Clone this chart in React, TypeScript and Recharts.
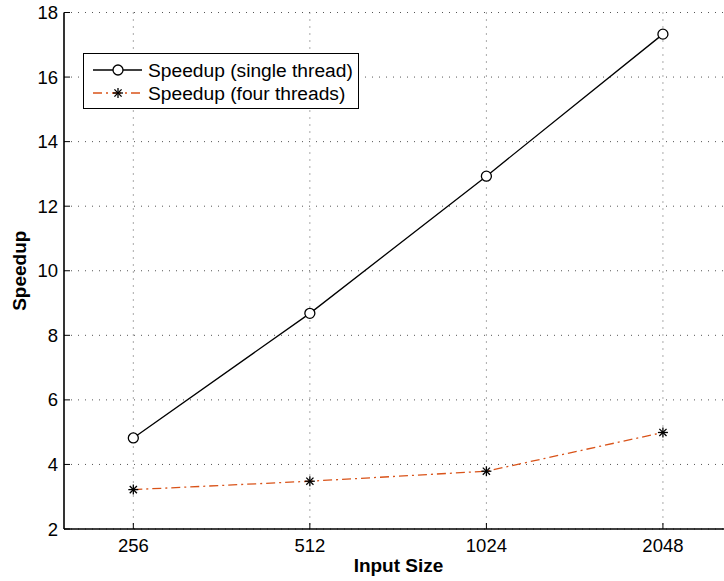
import { LineChart, Line, XAxis, YAxis, CartesianGrid, Legend } from "recharts";

const inputSizes = [256, 512, 1024, 2048];
const singleThread = [4.82, 8.68, 12.93, 17.33];
const fourThreads = [3.22, 3.48, 3.79, 4.99];
const yTicks = [2, 4, 6, 8, 10, 12, 14, 16, 18];
const seriesNames = ["Speedup (single thread)", "Speedup (four threads)"];

const ORANGE = "#D95319";
const FONT = '"Liberation Sans", Arial, Helvetica, sans-serif';
// right end of the axis is cut off by the picture edge
const X_DOMAIN = [195, 2603];

const data = inputSizes.map((n, i) => ({
  n,
  single: singleThread[i],
  four: fourThreads[i],
}));

function Asterisk(props: any) {
  const { cx, cy } = props;
  if (cx == null || cy == null) return null;
  const r = 5;
  const d = r * 0.72;
  return (
    <g stroke="#000" strokeWidth={1.3}>
      <line x1={cx - r} y1={cy} x2={cx + r} y2={cy} />
      <line x1={cx} y1={cy - r} x2={cx} y2={cy + r} />
      <line x1={cx - d} y1={cy - d} x2={cx + d} y2={cy + d} />
      <line x1={cx - d} y1={cy + d} x2={cx + d} y2={cy - d} />
    </g>
  );
}

function LegendBox() {
  return (
    <div
      style={{
        width: 276,
        height: 56,
        border: "1.3px solid #000",
        background: "#fff",
        boxSizing: "border-box",
      }}
    >
      <svg width={274} height={54} style={{ display: "block" }}>
        <line x1={9} y1={16} x2={58} y2={16} stroke="#000" strokeWidth={1.3} />
        <circle cx={34} cy={16} r={5} fill="#fff" stroke="#000" strokeWidth={1.3} />
        <text x={64} y={16} dy="0.35em" fontSize={19.2} fontFamily={FONT} fill="#000">
          {seriesNames[0]}
        </text>
        <line
          x1={9}
          y1={39}
          x2={58}
          y2={39}
          stroke={ORANGE}
          strokeWidth={1.3}
          strokeDasharray="9 4 2 4"
        />
        <Asterisk cx={34} cy={39} />
        <text x={64} y={39} dy="0.35em" fontSize={19.2} fontFamily={FONT} fill="#000">
          {seriesNames[1]}
        </text>
      </svg>
    </div>
  );
}

const tickStyle = { fill: "#000", fontSize: 18.5, fontFamily: FONT };

export default function App() {
  return (
    <div
      style={{
        position: "absolute",
        left: 0,
        top: 0,
        width: 724,
        height: 581,
        overflow: "hidden",
        background: "#fff",
      }}
    >
      <LineChart
        width={724}
        height={581}
        data={data}
        margin={{ top: 12.5, right: 0, bottom: 0, left: 0 }}
      >
        <CartesianGrid stroke="#555" strokeDasharray="1 6" syncWithTicks />
        <XAxis
          dataKey="n"
          type="number"
          scale="log"
          domain={X_DOMAIN}
          allowDataOverflow
          ticks={inputSizes}
          height={52}
          tickSize={-6}
          tickMargin={15.5}
          tick={tickStyle}
          axisLine={{ stroke: "#000", strokeWidth: 1.6 }}
          tickLine={{ stroke: "#000" }}
          label={{
            value: "Input Size",
            position: "insideBottom",
            offset: 9,
            dx: 4.5,
            style: { fontSize: 19, fontWeight: "bold", fontFamily: FONT, fill: "#000" },
          }}
        />
        <XAxis
          xAxisId="top"
          orientation="top"
          dataKey="n"
          type="number"
          scale="log"
          domain={X_DOMAIN}
          allowDataOverflow
          ticks={inputSizes}
          height={0}
          tickSize={-6}
          tickFormatter={() => ""}
          axisLine={{ stroke: "#000", strokeWidth: 1.3 }}
          tickLine={{ stroke: "#000" }}
        />
        <YAxis
          type="number"
          domain={[2, 18]}
          ticks={yTicks}
          width={64}
          tickSize={-6}
          tickMargin={12}
          tick={tickStyle}
          axisLine={{ stroke: "#000", strokeWidth: 1.6 }}
          tickLine={{ stroke: "#000" }}
          label={{
            value: "Speedup",
            angle: -90,
            position: "insideLeft",
            offset: 19,
            style: {
              fontSize: 19,
              fontWeight: "bold",
              fontFamily: FONT,
              fill: "#000",
              textAnchor: "middle",
            },
          }}
        />
        <Legend
          layout="vertical"
          align="center"
          verticalAlign="middle"
          content={() => <LegendBox />}
          wrapperStyle={{ position: "absolute", left: 83, top: 53, width: 276, height: 56, margin: 0, padding: 0 }}
        />
        <Line
          dataKey="single"
          name={seriesNames[0]}
          stroke="#000"
          strokeWidth={1.3}
          dot={{ r: 5, fill: "#fff", stroke: "#000", strokeWidth: 1.3 }}
          isAnimationActive={false}
        />
        <Line
          dataKey="four"
          name={seriesNames[1]}
          stroke={ORANGE}
          strokeWidth={1.3}
          strokeDasharray="9 4 2 4"
          dot={(p: any) => <Asterisk key={p.index} cx={p.cx} cy={p.cy} />}
          isAnimationActive={false}
        />
      </LineChart>
    </div>
  );
}
